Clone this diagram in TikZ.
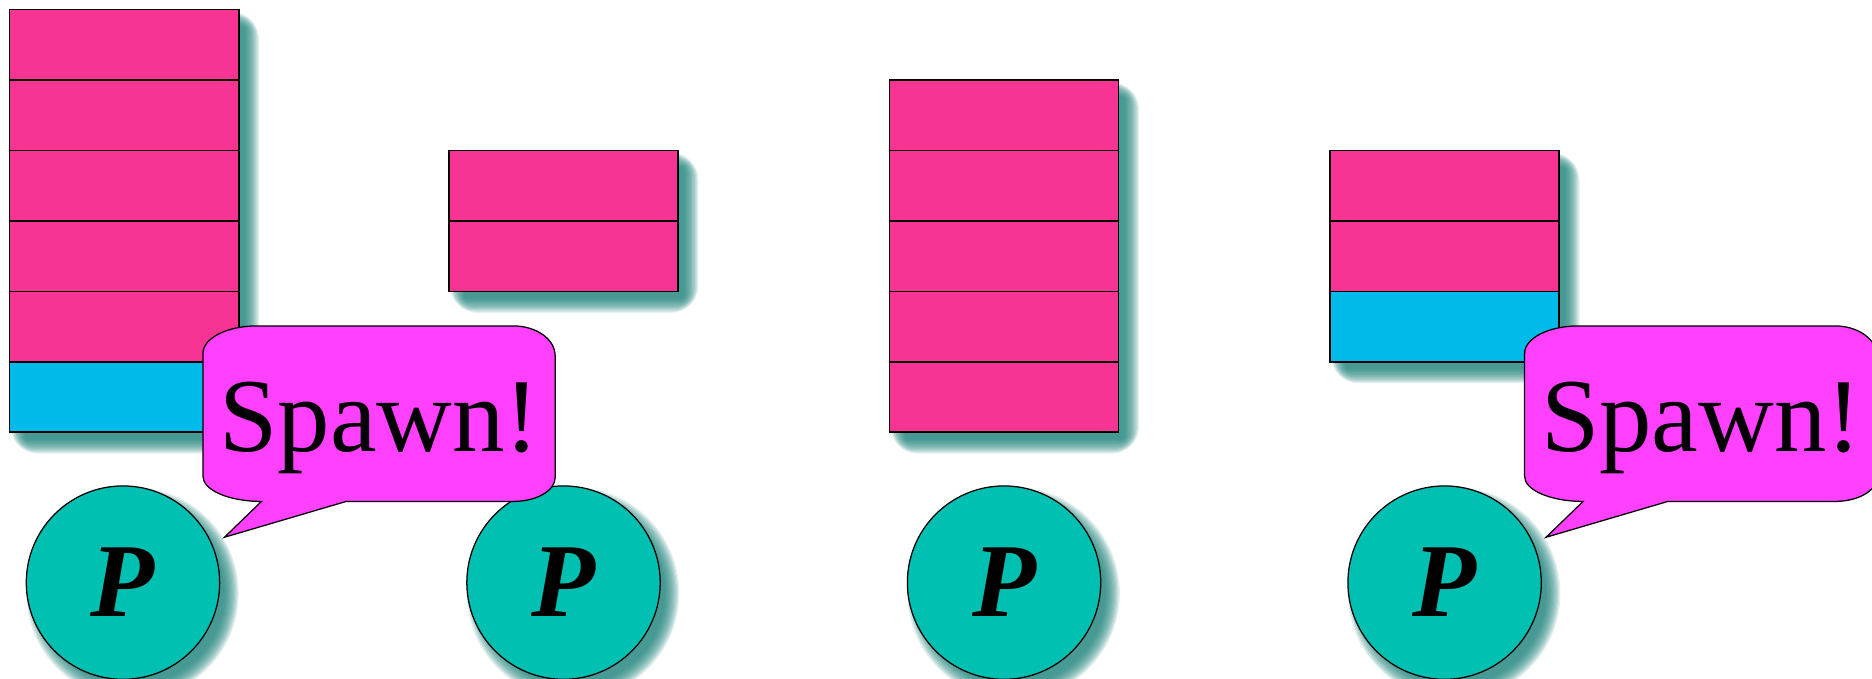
\documentclass[tikz,border=0pt]{standalone}
\usepackage{fontspec}
\setmainfont{Liberation Serif}
\definecolor{stackpink}{RGB}{247,51,148}
\definecolor{stackcyan}{RGB}{0,187,234}
\definecolor{procteal}{RGB}{0,192,178}
\definecolor{bubblemag}{RGB}{255,64,255}
\definecolor{shadowteal}{RGB}{30,130,122}
% rectangle shadow: x1 y1 x2 y2 in picture px (y downwards)
\newcommand\boxshade[4]{%
  \foreach \d in {8,...,-4}{%
    \pgfmathsetmacro\rc{max(\d+5,0.5)}
    \fill[shadowteal, fill opacity=0.12, rounded corners=\rc pt]
      ({#1+9-\d},{-(#2+10-\d)}) rectangle ({#3+9+\d},{-(#4+10+\d)});
  }}
% circle shadow: cx cy
\newcommand\discshade[2]{%
  \foreach \d in {8,...,-4}{%
    \pgfmathsetmacro\rr{(81+\d)*0.02}
    \fill[shadowteal, fill opacity=0.12] ({#1+8},{-(#2+9)}) circle [radius=\rr cm];
  }}
\newcommand\spawnbubble[2]{%
  \path[bubble, shift={(#1,0)}] (170,-296) .. controls (170,-283.3) and (190.1,-273) .. (215,-273)
    -- (430,-273) .. controls (449.3,-273) and (465,-284.2) .. (465,-298)
    -- (465,-400) .. controls (465,-411) and (449.3,-420) .. (430,-420)
    -- (290,-420) -- (188,-450) -- (219,-420)
    .. controls (191.9,-420) and (170,-410.6) .. (170,-399) -- cycle;
  \node[bubbletext] (#2) at ({318+#1},-378) {Spawn!};
}
\begin{document}
\begin{tikzpicture}[x=0.02cm, y=0.02cm,
  cell/.style={rectangle, draw=black, line width=0.75pt, minimum width=3.84cm,
    minimum height=1.18cm, inner sep=0pt, outer sep=0pt},
  pinkcell/.style={cell, fill=stackpink},
  cyancell/.style={cell, fill=stackcyan},
  proc/.style={circle, draw=black, line width=0.6pt, fill=procteal,
    minimum size=3.24cm, inner sep=0pt, font=\fontsize{50}{52}\selectfont\bfseries\itshape},
  bubble/.style={draw=black, line width=0.6pt, fill=bubblemag},
  bubbletext/.style={font=\fontsize{50}{52}\selectfont, inner sep=0pt, anchor=base}]
\useasboundingbox (0,0) rectangle (1568,-568);
% shadows
\boxshade{8}{8}{200}{362}
\boxshade{376}{126}{568}{244}
\boxshade{745}{67}{937}{362}
\boxshade{1114}{126}{1306}{303}
\discshade{103}{488}
\discshade{472}{488}
\discshade{841}{488}
\discshade{1210}{488}
% stack 1
\node[pinkcell] (s1r1) at (104,-37.5) {};
\node[pinkcell] (s1r2) at (104,-96.5) {};
\node[pinkcell] (s1r3) at (104,-155.5) {};
\node[pinkcell] (s1r4) at (104,-214.5) {};
\node[pinkcell] (s1r5) at (104,-273.5) {};
\node[cyancell] (s1r6) at (104,-332.5) {};
% stack 2
\node[pinkcell] (s2r1) at (472,-155.5) {};
\node[pinkcell] (s2r2) at (472,-214.5) {};
% stack 3
\node[pinkcell] (s3r1) at (841,-96.5) {};
\node[pinkcell] (s3r2) at (841,-155.5) {};
\node[pinkcell] (s3r3) at (841,-214.5) {};
\node[pinkcell] (s3r4) at (841,-273.5) {};
\node[pinkcell] (s3r5) at (841,-332.5) {};
% stack 4
\node[pinkcell] (s4r1) at (1210,-155.5) {};
\node[pinkcell] (s4r2) at (1210,-214.5) {};
\node[cyancell] (s4r3) at (1210,-273.5) {};
% processes
\node[proc] (p1) at (103,-488) {P};
\node[proc] (p2) at (472,-488) {P};
\node[proc] (p3) at (841,-488) {P};
\node[proc] (p4) at (1210,-488) {P};
% speech bubbles
\spawnbubble{0}{spawn1}
\spawnbubble{1107}{spawn2}
\end{tikzpicture}
\end{document}
